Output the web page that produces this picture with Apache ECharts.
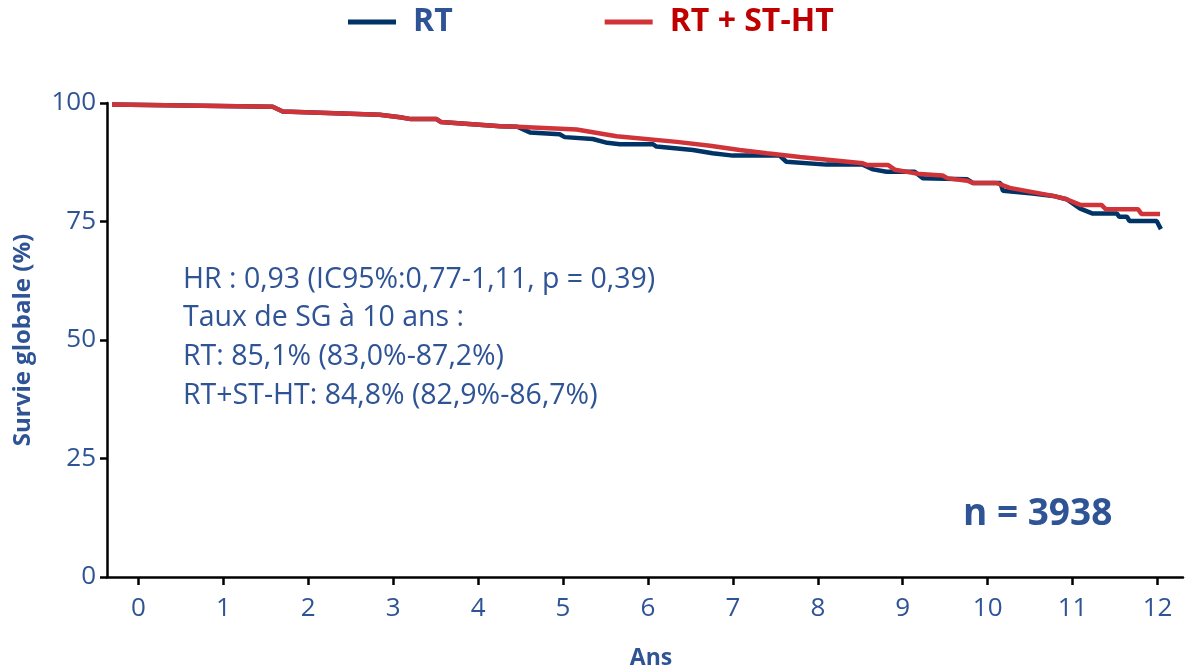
<!DOCTYPE html>
<html>
<head>
<meta charset="utf-8">
<script src="https://cdn.jsdelivr.net/npm/echarts@6/dist/echarts.min.js"></script>
<style>
  html, body { margin: 0; padding: 0; background: #ffffff; }
  #chart { width: 1185px; height: 668px; }
</style>
</head>
<body>
<div id="chart"></div>
<script>
// Kaplan-Meier overall survival, years vs. % alive
const seriesNames = ['RT', 'RT + ST-HT'];

// RT arm
const rtYears = [-0.31, 1.58, 1.70, 2.84, 3.08, 3.21, 3.51, 3.56, 4.26, 4.46, 4.61, 4.96, 5.02, 5.35, 5.52, 5.67, 6.06, 6.10, 6.53, 6.76, 7.00, 7.55, 7.63, 8.10, 8.53, 8.65, 8.81, 9.14, 9.24, 9.76, 9.83, 10.15, 10.18, 10.53, 10.77, 10.93, 11.09, 11.23, 11.52, 11.55, 11.64, 11.67, 11.99, 12.04];
const rtSurv  = [99.7, 99.2, 98.2, 97.5, 97.0, 96.6, 96.6, 96.0, 95.1, 95.0, 93.8, 93.4, 92.8, 92.4, 91.6, 91.3, 91.3, 90.8, 90.1, 89.4, 88.9, 88.9, 87.6, 87.0, 87.0, 86.0, 85.5, 85.5, 84.1, 83.9, 83.1, 83.1, 81.5, 80.9, 80.4, 79.7, 77.7, 76.7, 76.7, 76.0, 76.0, 75.1, 75.1, 73.4];

// RT + ST-HT arm
const sthtYears = [-0.31, 1.58, 1.70, 2.84, 3.08, 3.21, 3.51, 3.56, 4.26, 4.46, 5.16, 5.63, 6.34, 6.73, 7.08, 7.40, 7.79, 8.53, 8.58, 8.83, 8.91, 9.20, 9.47, 9.53, 9.76, 9.83, 10.11, 10.26, 10.53, 10.77, 10.93, 11.09, 11.34, 11.39, 11.77, 11.81, 12.03];
const sthtSurv  = [99.7, 99.2, 98.2, 97.5, 97.0, 96.6, 96.6, 96.0, 95.1, 95.0, 94.4, 93.0, 91.8, 91.0, 90.1, 89.4, 88.6, 87.3, 86.9, 86.9, 85.9, 85.0, 84.7, 84.1, 83.6, 83.1, 83.1, 82.1, 81.2, 80.4, 79.7, 78.5, 78.5, 77.6, 77.6, 76.6, 76.6];

const yTicks = [0, 25, 50, 75, 100];
const xTicks = [0, 1, 2, 3, 4, 5, 6, 7, 8, 9, 10, 11, 12];

const statLines = [
  'HR : 0,93 (IC95%:0,77-1,11, p = 0,39)',
  'Taux de SG à 10 ans :',
  'RT: 85,1% (83,0%-87,2%)',
  'RT+ST-HT: 84,8% (82,9%-86,7%)'
];
const sampleLabel = 'n = 3938';

const TEXT_BLUE = '#2F5496';
const LINE_BLUE = '#003366';
const LINE_RED = '#D13438';
const LEGEND_RED = '#C00000';
const FONT = '"Open Sans", Lato, sans-serif';

const zip = (xs, ys) => xs.map((x, i) => [x, ys[i]]);

const chart = echarts.init(document.getElementById('chart'), null, { renderer: 'canvas' });

chart.setOption({
  animation: false,
  backgroundColor: '#ffffff',
  grid: { left: 107, top: 103, right: 2, bottom: 91, containLabel: false, outerBoundsMode: 'none' },
  legend: {
    left: 348,
    top: 6,
    padding: 0,
    icon: 'rect',
    itemWidth: 48,
    itemHeight: 5,
    itemGap: 152,
    textStyle: { fontFamily: FONT, fontSize: 32, fontWeight: 'bold', padding: [0, 0, 0, 12] },
    data: [
      { name: seriesNames[0], textStyle: { color: TEXT_BLUE } },
      { name: seriesNames[1], textStyle: { color: LEGEND_RED } }
    ]
  },
  xAxis: {
    type: 'value',
    min: -0.37,
    max: 12.3,
    interval: 1,
    name: 'Ans',
    nameLocation: 'middle',
    nameGap: 70,
    nameTextStyle: { fontFamily: FONT, fontSize: 23, fontWeight: 'bold', color: TEXT_BLUE, padding: [0, 0, 0, 12] },
    axisLine: { show: true, onZero: false, lineStyle: { color: '#000', width: 2.5 } },
    axisTick: { show: true, length: 8, lineStyle: { color: '#000', width: 2.5 }, customValues: xTicks },
    axisLabel: { fontFamily: FONT, fontSize: 26, color: TEXT_BLUE, margin: 19, customValues: xTicks },
    splitLine: { show: false }
  },
  yAxis: {
    type: 'value',
    min: 0,
    max: 100,
    interval: 25,
    name: 'Survie globale (%)',
    nameLocation: 'middle',
    nameGap: 72,
    nameTextStyle: { fontFamily: FONT, fontSize: 24, fontWeight: 'bold', color: TEXT_BLUE },
    axisLine: { show: true, onZero: false, lineStyle: { color: '#000', width: 2.5 } },
    axisTick: { show: true, length: 7, lineStyle: { color: '#000', width: 2.5 }, customValues: yTicks },
    axisLabel: { fontFamily: FONT, fontSize: 26, color: TEXT_BLUE, margin: 11, customValues: yTicks },
    splitLine: { show: false }
  },
  series: [
    {
      name: seriesNames[0],
      type: 'line',
      data: zip(rtYears, rtSurv),
      showSymbol: false,
      color: LINE_BLUE,
      lineStyle: { color: LINE_BLUE, width: 4.5 },
      z: 2
    },
    {
      name: seriesNames[1],
      type: 'line',
      data: zip(sthtYears, sthtSurv),
      showSymbol: false,
      color: LINE_RED,
      lineStyle: { color: LINE_RED, width: 4.5 },
      z: 3
    }
  ],
  graphic: [
    ...statLines.map((t, i) => ({
      type: 'text',
      left: 183,
      top: 280 + i * 38.7 - 15,
      style: { text: t, fontFamily: FONT, fontSize: 28.5, fill: TEXT_BLUE }
    })),
    {
      type: 'text',
      left: 963,
      top: 496,
      style: { text: sampleLabel, fontFamily: FONT, fontSize: 37, fontWeight: 'bold', fill: TEXT_BLUE }
    }
  ]
});
</script>
</body>
</html>
